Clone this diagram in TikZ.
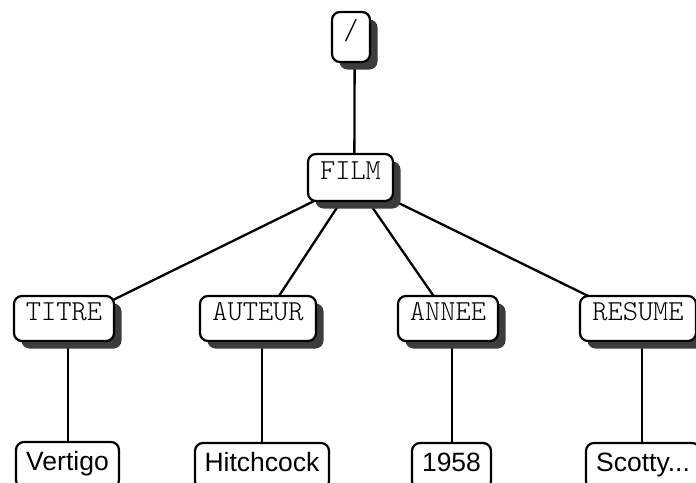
\documentclass[tikz,border=0pt]{standalone}
\usepackage{fontspec}
\setmainfont{Liberation Sans}
\newfontfamily\tagfont{Latin Modern Mono Light}
\usetikzlibrary{shadows,backgrounds,calc}
\definecolor{shadowgray}{HTML}{3C3C3C}
\begin{document}
\begin{tikzpicture}[x=1pt,y=-1pt,
  base/.style={draw=black, line width=2.2pt, rounded corners=8pt, fill=white, inner sep=0pt},
  tagbox/.style={base, font=\tagfont\fontsize{29}{33}\selectfont, text height=16pt, text depth=12pt,
    drop shadow={shadow xshift=7.5pt, shadow yshift=-7.5pt, fill=shadowgray, opacity=1}},
  leafbox/.style={base, font=\fontsize{26.5}{30}\selectfont, text height=18pt, text depth=8pt,
    minimum height=46pt},
  edge/.style={draw=black, line width=2.3pt}
]
\useasboundingbox (0,0) rectangle (696,482);
\clip (0,0) rectangle (696,482);
\node[tagbox, minimum width=38pt, minimum height=50pt] (root) at (351,37) {/};
\node[tagbox, minimum width=85pt, minimum height=47pt] (film) at (350.5,177.5) {FILM};
\node[tagbox, minimum width=100pt, minimum height=45pt] (titre) at (64,318.5) {TITRE};
\node[tagbox, minimum width=116pt, minimum height=45pt] (auteur) at (258,318.5) {AUTEUR};
\node[tagbox, minimum width=100pt, minimum height=45pt] (annee) at (448,318.5) {ANNEE};
\node[tagbox, minimum width=116pt, minimum height=45pt] (resume) at (638,318.5) {RESUME};
\node[leafbox, minimum width=103pt] (vertigo) at (67.5,465) {Vertigo};
\node[leafbox, minimum width=134pt] (hitch) at (262,466) {Hitchcock};
\node[leafbox, minimum width=79pt] (annee1958) at (451.5,466) {1958};
\node[leafbox, minimum width=114pt] (scotty) at (643,466) {Scotty...};
\begin{scope}[on background layer]
  \coordinate (sroot) at ($(root.center)+(3.75,3.75)$);
  \coordinate (sfilm) at ($(film.center)+(3.75,3.75)$);
  \coordinate (stitre) at ($(titre.center)+(3.75,3.75)$);
  \coordinate (sauteur) at ($(auteur.center)+(3.75,3.75)$);
  \coordinate (sannee) at ($(annee.center)+(3.75,3.75)$);
  \coordinate (sresume) at ($(resume.center)+(3.75,3.75)$);
  \draw[edge] (sroot) -- (sfilm);
  \draw[edge] (sfilm) -- (stitre);
  \draw[edge] (sfilm) -- (sauteur);
  \draw[edge] (sfilm) -- (sannee);
  \draw[edge] (sfilm) -- (sresume);
  \draw[edge] (stitre) -- (stitre |- vertigo.center);
  \draw[edge] (sauteur) -- (sauteur |- hitch.center);
  \draw[edge] (sannee) -- (sannee |- annee1958.center);
  \draw[edge] (sresume) -- (sresume |- scotty.center);
\end{scope}
\end{tikzpicture}
\end{document}
